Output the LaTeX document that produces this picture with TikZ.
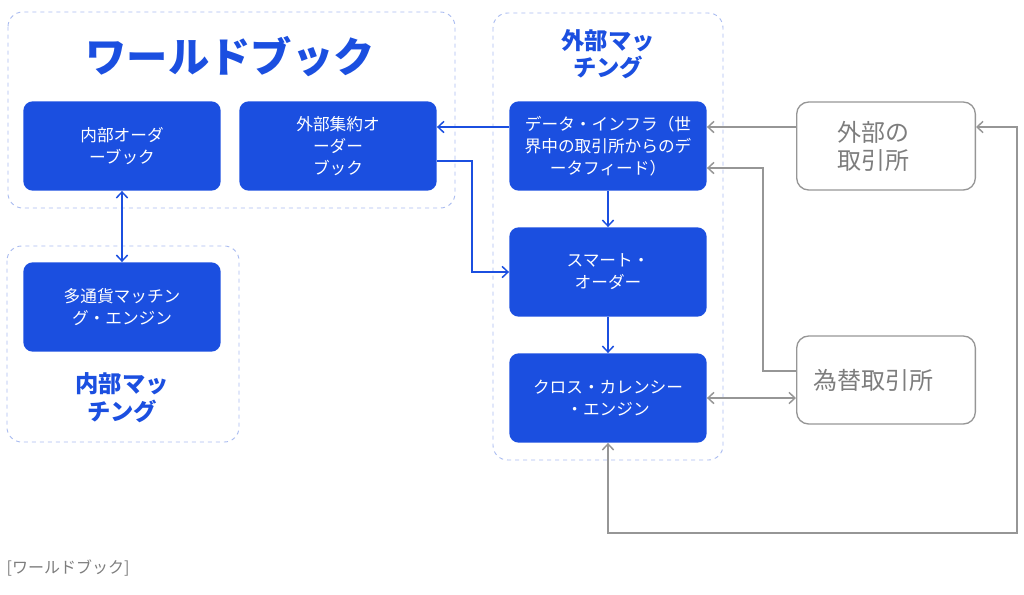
\documentclass[tikz,border=0pt]{standalone}
\usepackage{fontspec}
\setmainfont{Noto Sans CJK JP}
\usepackage{tikz}
\usetikzlibrary{arrows.meta}
\definecolor{wbblue}{RGB}{27,79,224}
\definecolor{wbdash}{RGB}{170,188,240}
\definecolor{wbgray}{RGB}{150,150,150}
\definecolor{wbtext}{RGB}{125,125,125}
\newcommand{\lpad}{\hspace*{19pt}}

\begin{document}
\begin{tikzpicture}[x=0.75pt,y=-0.75pt]
\useasboundingbox (0,0) rectangle (1024,594);

% dashed groups
\begin{scope}[every path/.style={draw=wbdash,line width=0.7pt,dash pattern=on 3pt off 3pt,rounded corners=11pt}]
    \draw (8,12) rectangle (455,208);
    \draw (7,246) rectangle (239,442);
    \draw (493,13) rectangle (723,460);
\end{scope}

\begin{scope}[every node/.style={text=wbblue,align=center}]
    \node[font=\bfseries\fontsize{31}{36}\selectfont] (wbtitle) at (230,57) {ワールドブック};
    \node[font=\bfseries\fontsize{17.5}{20.5}\selectfont] (extlabel) at (608,54) {外部マッ\\チング};
    \node[font=\bfseries\fontsize{17.5}{21}\selectfont] (intlabel) at (122,398) {内部マッ\\チング};
\end{scope}

\begin{scope}[every node/.style={fill=wbblue,text=white,rounded corners=7pt,
              minimum width=148pt,minimum height=67pt,align=center,
              font=\fontsize{12.5}{16.5}\selectfont}]
    \node (intbook) at (122,146) {内部オーダ\\ーブック};
    \node (aggbook) at (338,146) {外部集約オ\\ーダー\\ブック};
    \node (multieng) at (122,307) {多通貨マッチン\\グ・エンジン};
    \node (datainfra) at (608,146) {データ・インフラ（世\\界中の取引所からのデ\\ータフィード）};
    \node (smartord) at (608,272) {スマート・\\オーダー};
    \node (crossccy) at (608,398) {クロス・カレンシー\\・エンジン};
\end{scope}

\begin{scope}[every node/.style={draw=wbgray,line width=1pt,text=wbtext,rounded corners=9pt,
              minimum width=134pt,minimum height=66pt,align=center,
              font=\fontsize{18}{21}\selectfont}]
    \node (extex) at (886,146) {外部の\lpad\\取引所\lpad};
    \node (fxex) at (886,380) {為替取引所\lpad};
\end{scope}

\begin{scope}[>={Straight Barb[length=4.5pt,width=8.5pt]},line width=1.1pt]
    \draw[->,wbblue] ([yshift=14.25pt]datainfra.west) -- ([yshift=14.25pt]aggbook.east);
    \draw[->,wbblue] ([yshift=-11.25pt]aggbook.east) -| (472,272) -- (smartord.west);
    \draw[<->,wbblue] (intbook) -- (multieng);
    \draw[->,wbblue] (datainfra) -- (smartord);
    \draw[->,wbblue] (smartord) -- (crossccy);
    \draw[->,wbgray] ([yshift=14.25pt]extex.west) -- ([yshift=14.25pt]datainfra.east);
    \draw[->,wbgray] ([yshift=6.75pt]fxex.west) -| (763,168) -- ([yshift=-16.5pt]datainfra.east);
    \draw[<->,wbgray] (crossccy.east) -- (crossccy.east -| fxex.west);
    \draw[<->,wbgray] (crossccy.south) -- ++(0,90) -| (1017,127) -- ([yshift=14.25pt]extex.east);
\end{scope}

\node[text=wbtext,anchor=west,font=\fontsize{12}{14}\selectfont] (caption) at (2,568) {[ワールドブック]};
\end{tikzpicture}
\end{document}
